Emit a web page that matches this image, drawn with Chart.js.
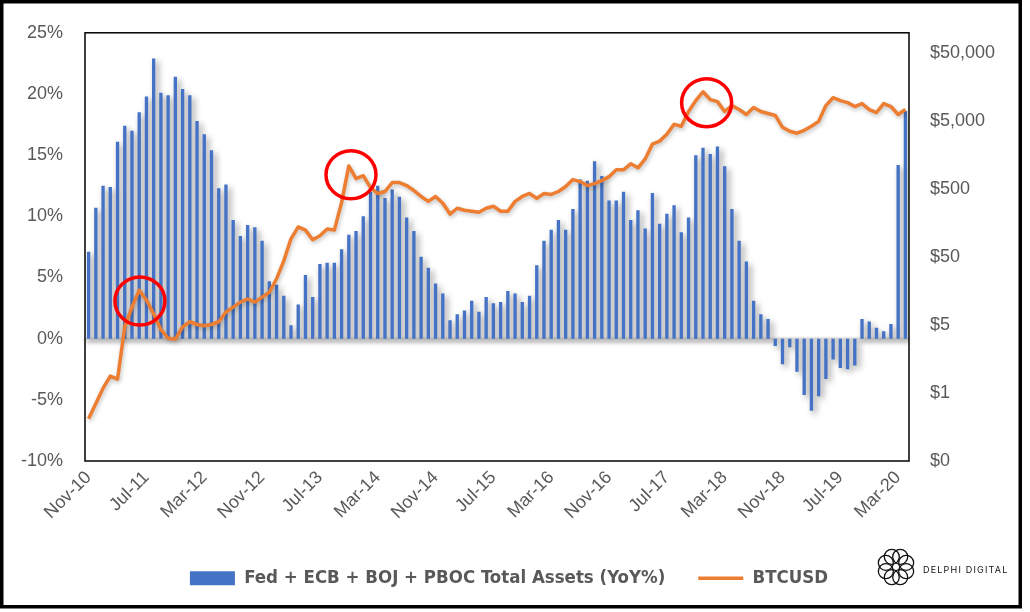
<!DOCTYPE html>
<html>
<head>
<meta charset="utf-8">
<script src="https://cdn.jsdelivr.net/npm/chart.js@4.4.0/dist/chart.umd.min.js"></script>
<style>
  html, body { margin: 0; padding: 0; background: #fff; }
  canvas { display: block; }
</style>
</head>
<body>
<canvas id="chart" width="1030" height="612"></canvas>
<script>
// monthly categories, Nov-10 .. Apr-20 (label shown every 8 months)
const monthNames = ['Jan', 'Feb', 'Mar', 'Apr', 'May', 'Jun', 'Jul', 'Aug', 'Sep', 'Oct', 'Nov', 'Dec'];
const categories = [];
for (let i = 0; i < 114; i++) {
    const m = (10 + i) % 12;
    const yr = 10 + Math.floor((10 + i) / 12);
    categories.push(monthNames[m] + '-' + String(yr).padStart(2, '0'));
}
const labelEvery = 8;

// Fed + ECB + BOJ + PBOC total assets, YoY %
const assetsYoY = [
    7.1, 10.7, 12.5, 12.4, 16.1, 17.4, 17.0, 18.5, 19.8, 22.9, 20.1, 19.9, 21.4, 20.4, 19.9, 17.8, 16.7, 15.4, 12.3, 12.6, 9.7,
    8.4, 9.3, 9.1, 8.0, 4.7, 4.4, 3.5, 1.1, 2.8, 5.2, 3.4, 6.1, 6.2, 6.2, 7.3, 8.5, 8.8, 10.0, 12.0,
    12.5, 11.5, 12.2, 11.6, 9.9, 8.8, 6.7, 5.8, 4.5, 3.7, 1.5, 2.0, 2.3, 3.1, 2.2, 3.4, 2.9, 3.0, 3.9, 3.7, 3.0,
    3.5, 6.0, 8.0, 8.9, 9.7, 8.9, 10.6, 13.0, 12.9, 14.5, 13.3, 11.3, 11.3, 12.0, 9.7, 10.5, 9.0, 11.9, 9.4, 10.2,
    10.9, 8.7, 9.9, 15.0, 15.6, 15.1, 15.7, 14.1, 10.6, 8.0, 6.3, 3.1, 2.0, 1.6, -0.6, -2.1, -0.7, -2.7, -4.6, -5.9,
    -4.7, -3.3, -1.7, -2.4, -2.5, -2.2, 1.6, 1.4, 0.9, 0.6, 1.2, 14.2, 18.6
];

// BTCUSD monthly
const btcUsd = [
    0.21, 0.35, 0.59, 0.89, 0.80, 4.7, 9.2, 16.3, 11.7, 7.3,
    4.3, 3.2, 3.1, 4.7, 5.6, 5.1, 4.9, 5.1, 5.6, 7.8,
    9.2, 10.9, 12.1, 10.9, 12.9, 15.2, 24, 44, 93, 139,
    125, 90, 103, 130, 125, 320, 1100, 716, 789, 528,
    432, 462, 625, 625, 565, 478, 391, 331, 391, 310,
    215, 262, 245, 237, 229, 262, 280, 237, 237, 331,
    391, 432, 366, 432, 418, 462, 547, 692, 647, 565,
    604, 668, 764, 964, 964, 1180, 1031, 1393, 2300, 2547,
    3220, 4500, 4207, 6950, 10050, 13565, 10380, 9706, 6950, 8490,
    7430, 6280, 7940, 6950, 6500, 6080, 4070, 3560, 3330, 3680,
    4207, 4975, 8490, 11090, 10050, 9395, 8220, 9085, 7430, 6715,
    9085, 8220, 6280, 7430
];

// axis ticks
const pctTicks = [-10, -5, 0, 5, 10, 15, 20, 25];
const priceTicks = [0.05, 0.5, 5, 50, 500, 5000, 50000];

// red circle call-outs (category index, BTC price)
const circleIndex = [7.1, 36.3, 85.5];
const circlePrice = [11.3, 817, 9375];

const tickFont = { family: '"Liberation Sans", Arial, sans-serif', size: 18 };
const tickColor = '#595959';

const decorations = {
    id: 'decorations',
    beforeDatasetsDraw(chart) {
        const { ctx, chartArea, scales } = chart;
        const y0 = scales.y.getPixelForValue(0);
        ctx.save();
        ctx.shadowColor = 'rgba(0,0,0,0.35)';
        ctx.shadowBlur = 4;
        ctx.shadowOffsetY = 2;
        ctx.strokeStyle = '#d9d9d9';
        ctx.lineWidth = 2;
        ctx.beginPath();
        ctx.moveTo(chartArea.left, y0);
        ctx.lineTo(chartArea.right, y0);
        ctx.stroke();
        ctx.restore();
    },
    beforeDatasetDraw(chart, args) {
        const ctx = chart.ctx;
        ctx.save();
        if (args.meta.type === 'bar') {
            ctx.shadowColor = 'rgba(0,0,0,0.45)';
            ctx.shadowBlur = 6;
            ctx.shadowOffsetX = 3;
            ctx.shadowOffsetY = 3;
        } else {
            ctx.shadowColor = 'rgba(0,0,0,0.25)';
            ctx.shadowBlur = 4;
            ctx.shadowOffsetX = 1;
            ctx.shadowOffsetY = 2;
        }
    },
    afterDatasetDraw(chart) {
        chart.ctx.restore();
    },
    afterDatasetsDraw(chart) {
        const { ctx, chartArea, scales } = chart;
        // plot area border
        ctx.save();
        ctx.strokeStyle = '#000';
        ctx.lineWidth = 1.5;
        ctx.strokeRect(chartArea.left, chartArea.top, chartArea.right - chartArea.left, chartArea.bottom - chartArea.top);
        // circles
        ctx.strokeStyle = '#ff0000';
        ctx.lineWidth = 3.5;
        circleIndex.forEach((ix, k) => {
            const cx = scales.x.getPixelForValue(ix);
            const cy = scales.y1.getPixelForValue(circlePrice[k]);
            ctx.beginPath();
            ctx.ellipse(cx, cy, 25, 24, 0, 0, Math.PI * 2);
            ctx.stroke();
        });
        ctx.restore();
    },
    afterDraw(chart) {
        const ctx = chart.ctx;
        ctx.save();
        // outer frame
        ctx.strokeStyle = '#000';
        ctx.lineWidth = 3.5;
        ctx.strokeRect(1.75, 1.75, 1018.5, 605);
        // logo
        const lx = 896, ly = 567;
        ctx.strokeStyle = '#111';
        ctx.lineWidth = 1.3;
        for (let k = 0; k < 8; k++) {
            const a = k * Math.PI / 4 + Math.PI / 8;
            ctx.beginPath();
            ctx.arc(lx + 11 * Math.cos(a), ly + 11 * Math.sin(a), 7.5, 0, Math.PI * 2);
            ctx.stroke();
        }
        ctx.fillStyle = '#111';
        ctx.font = '9px Inter, "Noto Sans", sans-serif';
        ctx.textBaseline = 'middle';
        ctx.textAlign = 'left';
        ctx.letterSpacing = '1.2px';
        ctx.fillText('DELPHI DIGITAL', 923, 570);
        ctx.restore();
    }
};

new Chart(document.getElementById('chart'), {
    data: {
        labels: categories,
        datasets: [{
            type: 'bar',
            label: 'Fed + ECB + BOJ + PBOC Total Assets (YoY%)',
            data: assetsYoY,
            yAxisID: 'y',
            backgroundColor: '#4472c4',
            borderWidth: 0,
            categoryPercentage: 1,
            barPercentage: 0.46,
            order: 1
        }, {
            type: 'line',
            label: 'BTCUSD',
            data: btcUsd,
            yAxisID: 'y1',
            borderColor: '#ed7d31',
            backgroundColor: '#ed7d31',
            borderWidth: 3.5,
            pointRadius: 0,
            tension: 0,
            borderJoinStyle: 'round',
            order: 0
        }]
    },
    options: {
        responsive: false,
        animation: false,
        devicePixelRatio: 1,
        layout: { padding: { top: 29, left: 0, right: 12, bottom: 14.5 } },
        plugins: {
            tooltip: { enabled: false },
            legend: {
                position: 'bottom',
                labels: {
                    color: '#595959',
                    font: { family: '"DejaVu Sans Condensed", "Liberation Sans Narrow", Arial, sans-serif', size: 18.5, weight: 'bold' },
                    usePointStyle: true,
                    pointStyleWidth: 45,
                    boxHeight: 14,
                    padding: 33,
                    sort: (a, b) => a.datasetIndex - b.datasetIndex,
                    generateLabels(chart) {
                        const items = Chart.defaults.plugins.legend.labels.generateLabels(chart);
                        items.forEach(it => {
                            if (it.datasetIndex === 0) {
                                it.pointStyle = 'rect';
                                it.lineWidth = 0;
                            } else {
                                it.pointStyle = 'line';
                                it.lineWidth = 3.5;
                            }
                        });
                        return items;
                    }
                }
            }
        },
        scales: {
            x: {
                type: 'category',
                offset: true,
                grid: { display: false, drawTicks: false },
                border: { display: false },
                ticks: {
                    autoSkip: false,
                    maxRotation: 45,
                    minRotation: 45,
                    padding: 6,
                    color: tickColor,
                    font: tickFont,
                    callback: (v, i) => (i % labelEvery === 0 ? categories[i] : null)
                },
                afterFit(s) { s.height = 75; }
            },
            y: {
                position: 'left',
                min: -10,
                max: 25,
                grid: { display: false, drawTicks: false },
                border: { display: false },
                afterBuildTicks(axis) { axis.ticks = pctTicks.map(v => ({ value: v })); },
                ticks: {
                    padding: 22,
                    color: tickColor,
                    font: tickFont,
                    callback: v => v + '%'
                },
                afterFit(s) { s.width = 85; }
            },
            y1: {
                type: 'logarithmic',
                position: 'right',
                min: 0.05,
                max: 100000,
                grid: { display: false, drawTicks: false },
                border: { display: false },
                afterBuildTicks(axis) { axis.ticks = priceTicks.map(v => ({ value: v })); },
                ticks: {
                    padding: 21,
                    color: tickColor,
                    font: tickFont,
                    callback: v => '$' + Math.round(v).toLocaleString('en-US')
                },
                afterFit(s) { s.width = 109; }
            }
        }
    },
    plugins: [decorations]
});
</script>
</body>
</html>
